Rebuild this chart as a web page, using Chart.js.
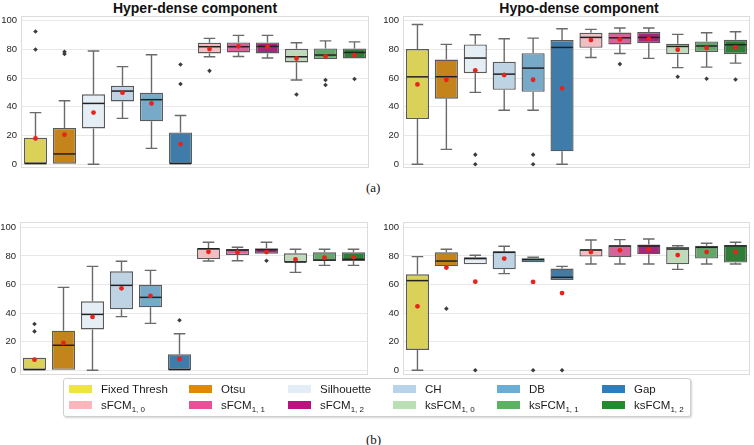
<!DOCTYPE html>
<html>
<head>
<meta charset="utf-8">
<script src="https://cdn.jsdelivr.net/npm/chart.js@4"></script>
<style>
  body { margin: 0; background: #fff; width: 754px; height: 445px; position: relative; overflow: hidden;
         font-family: "Liberation Sans", Arial, sans-serif; }
  .panel { position: absolute; }
  .panel canvas { display: block; }
  .title { position: absolute; width: 300px; text-align: center; font-weight: bold; font-size: 14px;
           line-height: 16px; color: #111; }
  .cap { position: absolute; font-family: "Liberation Serif", "DejaVu Serif", serif; font-size: 13px; color: #111; }
  #legend { position: absolute; left: 63px; top: 378px; width: 626px; height: 37px; background: #fff;
            border: 1px solid #cfcfcf; border-radius: 3px; box-shadow: 1px 1px 2px rgba(0,0,0,0.18); }
  .item { position: absolute; font-size: 11.5px; line-height: 14px; color: #1a1a1a; white-space: nowrap; }
  .sw { position: absolute; width: 23px; height: 8px; }
  .item sub { font-size: 8px; vertical-align: -3px; line-height: 0; }
</style>
</head>
<body>
<div class="title" style="left:45px; top:0px;">Hyper-dense component</div>
<div class="title" style="left:429px; top:0px;">Hypo-dense component</div>
<div class="panel" style="left:0px; top:10px;"><canvas id="aHyper" width="375" height="165"></canvas></div>
<div class="panel" style="left:375px; top:10px;"><canvas id="aHypo" width="379" height="165"></canvas></div>
<div class="panel" style="left:0px; top:216px;"><canvas id="bHyper" width="375" height="165"></canvas></div>
<div class="panel" style="left:375px; top:216px;"><canvas id="bHypo" width="379" height="165"></canvas></div>
<div class="cap" style="left:366px; top:180px;">(a)</div>
<div class="cap" style="left:366px; top:432px;">(b)</div>
<div id="legend"></div>
<script>
// methods, in plotting order
const methods = ['Fixed Thresh', 'Otsu', 'Silhouette', 'CH', 'DB', 'Gap',
                 'sFCM', 'sFCM', 'sFCM', 'ksFCM', 'ksFCM', 'ksFCM'];
const subscripts = ['', '', '', '', '', '', '1, 0', '1, 1', '1, 2', '1, 0', '1, 1', '1, 2'];
const categories = methods.map((m, i) => subscripts[i] ? m + subscripts[i] : m);
const palette = ['#f0e442', '#e08a00', '#e3edf8', '#b7d4ea', '#6aaed6', '#2e7ebc',
                 '#fab6ba', '#e8519a', '#b8137f', '#badfb5', '#5ab262', '#238a2e'];
const yTicks = [0, 20, 40, 60, 80, 100];

// box stats: [whisker low, q1, median, q3, whisker high]
const aHyperStats = [[0, 0, 0, 18.5, 36], [0, 0, 7.2, 25.3, 44.3], [0, 25, 42.4, 48.7, 78.9],
  [32, 43.8, 51, 54.7, 68], [11.1, 29.9, 45, 49.9, 76.3], [0, 0, 0, 22.2, 34],
  [74.9, 77.2, 81.9, 84.7, 87.7], [75.1, 77.9, 81.9, 84.9, 89.8], [74, 77.2, 82.1, 84.9, 89.8],
  [58.7, 70.9, 74.9, 80.5, 84.7], [73.3, 73.3, 76.1, 80.7, 86], [73.7, 73.7, 77.9, 80.7, 85.3]];
const aHyperMeans = [18, 20.6, 36, 49.9, 42.4, 14.1, 80.3, 82.2, 81.9, 73.7, 75.2, 76.1];
const aHyperOutliers = [[92.5, 80], [78.4, 76.8], [], [], [], [69.5, 55.9], [65.1], [], [], [48.6], [58.7, 55.2], [59.4]];

const aHypoStats = [[0, 31.5, 60.9, 80.3, 97.4], [10.4, 45.7, 61, 73, 83.5], [50.1, 63.5, 74, 83.5, 90.2],
  [37.6, 51.9, 62.8, 71.4, 87.4], [37.6, 50.5, 67, 77.4, 87.9], [0, 9, 81.4, 86.5, 94.4],
  [74.4, 81.1, 88.4, 91.6, 94], [77.2, 83.5, 88.1, 91.8, 94.9], [73.8, 84.4, 88.4, 92.1, 94.9],
  [67.3, 76.7, 82.1, 84, 90.5], [67.7, 78.2, 82.4, 85.6, 91.6], [70.5, 76.7, 83.3, 86.7, 92.3]];
const aHypoMeans = [55.6, 58.9, 65.4, 62.2, 58.9, 52.9, 86.5, 87, 87.4, 79.8, 81, 81.4];
const aHypoOutliers = [[], [], [6.7, 0], [], [6.7, 0], [], [], [69.8], [], [61], [59.6], [59.1]];

const bHyperStats = [[0, 0, 0, 8.8, 8.8], [0, 0, 17.5, 27.7, 58], [0, 28.6, 39.1, 48.2, 72.7],
  [37.5, 42.6, 59.4, 69.2, 76.2], [32.8, 44, 51, 59.9, 69.9], [0, 0, 0, 11.2, 25.6],
  [76.4, 77.8, 85, 85.3, 89.5], [76.6, 80.6, 84, 84.8, 86], [81.5, 81.5, 84.3, 85.3, 89.5],
  [68.5, 75.5, 75.7, 81.8, 84.6], [73.4, 76.4, 77.1, 82.5, 84.6], [73.4, 76.4, 77.6, 82.5, 84.6]];
const bHyperMeans = [7.4, 19.1, 37.3, 57.3, 52, 7.9, 82.9, 82.5, 82.7, 77.6, 78.8, 79.2];
const bHyperOutliers = [[32.4, 27.2], [], [], [], [], [35], [], [], [76.6], [], [], []];

const bHypoStats = [[0, 14.2, 62.7, 67.1, 79.5], [72.7, 72.7, 76.4, 82.5, 84.6], [74.1, 74.1, 78.1, 79, 80.4],
  [67.6, 70.6, 82.5, 83.2, 86.7], [75.5, 75.5, 77.4, 78.3, 79], [63.2, 63.2, 65, 71.1, 72.7],
  [74.3, 79.5, 84.1, 84.6, 91.1], [74.3, 79, 86.9, 87.4, 91.4], [74.3, 81.1, 86.9, 87.9, 91.8],
  [70.6, 74.1, 84.8, 86.2, 87.1], [74.3, 78.1, 86, 87.1, 88.8], [74.3, 75.3, 86.9, 87.6, 89.5]];
const bHypoMeans = [44.7, 71.8, 62, 78.1, 61.8, 54, 82.7, 83.9, 84.6, 80.6, 82.7, 82.7];
const bHypoOutliers = [[], [43.1], [0], [], [0], [0], [], [], [], [], [], []];

const lineGray = '#5a5a5a';

// seaborn-style desaturation for the box faces
function desaturate(hex, prop) {
  const r = parseInt(hex.slice(1, 3), 16) / 255, g = parseInt(hex.slice(3, 5), 16) / 255, b = parseInt(hex.slice(5, 7), 16) / 255;
  const mx = Math.max(r, g, b), mn = Math.min(r, g, b), l = (mx + mn) / 2;
  let h = 0, s = 0;
  if (mx !== mn) {
    const d = mx - mn;
    s = l > 0.5 ? d / (2 - mx - mn) : d / (mx + mn);
    if (mx === r) h = (g - b) / d + (g < b ? 6 : 0);
    else if (mx === g) h = (b - r) / d + 2;
    else h = (r - g) / d + 4;
    h /= 6;
  }
  return 'hsl(' + (h * 360).toFixed(1) + ',' + (s * prop * 100).toFixed(1) + '%,' + (l * 100).toFixed(1) + '%)';
}
const boxColors = palette.map(c => desaturate(c, 0.75));

const boxParts = {
  id: 'boxParts',
  beforeDatasetsDraw(chart) {
    const stats = chart.data.datasets[0].stats;
    const x = chart.scales.x, y = chart.scales.y, ctx = chart.ctx;
    const meta = chart.getDatasetMeta(0);
    ctx.save();
    ctx.strokeStyle = '#6a6a6a';
    ctx.lineWidth = 1.4;
    stats.forEach((s, i) => {
      const cx = x.getPixelForValue(i), half = meta.data[i].width / 4;
      [[s[0], s[1]], [s[4], s[3]]].forEach(([end, edge]) => {
        if (end === edge) return;
        ctx.beginPath();
        ctx.moveTo(cx, y.getPixelForValue(edge));
        ctx.lineTo(cx, y.getPixelForValue(end));
        ctx.moveTo(cx - half, y.getPixelForValue(end));
        ctx.lineTo(cx + half, y.getPixelForValue(end));
        ctx.stroke();
      });
    });
    ctx.restore();
  },
  afterDatasetDraw(chart, args) {
    if (args.index !== 0) return;
    const stats = chart.data.datasets[0].stats;
    const x = chart.scales.x, y = chart.scales.y, ctx = chart.ctx;
    const meta = chart.getDatasetMeta(0);
    ctx.save();
    ctx.strokeStyle = '#222';
    ctx.lineWidth = 1.5;
    stats.forEach((s, i) => {
      const cx = x.getPixelForValue(i), half = meta.data[i].width / 2 - 0.7;
      const py = Math.min(y.getPixelForValue(s[2]), y.getPixelForValue(0) - 0.7);
      ctx.beginPath();
      ctx.moveTo(cx - half, py);
      ctx.lineTo(cx + half, py);
      ctx.stroke();
    });
    ctx.restore();
  },
  afterDraw(chart) {
    const a = chart.chartArea, ctx = chart.ctx;
    ctx.save();
    ctx.strokeStyle = '#dcdcdc';
    ctx.lineWidth = 1;
    ctx.strokeRect(Math.round(a.left) + 0.5, Math.round(a.top) + 0.5,
                   Math.round(a.right - a.left) - 1, Math.round(a.bottom - a.top) - 1);
    ctx.restore();
  }
};

function makePanel(id, stats, means, outliers, yMin, yMax, axisWidth, pad) {
  const outlierPts = [];
  outliers.forEach((list, i) => list.forEach(v => outlierPts.push({ x: categories[i], y: v })));
  return new Chart(document.getElementById(id), {
    type: 'bar',
    data: {
      labels: categories,
      datasets: [
        {
          data: stats.map(s => [s[1], s[3]]),
          stats: stats,
          backgroundColor: boxColors,
          borderColor: lineGray,
          borderWidth: 1.4,
          borderSkipped: false,
          categoryPercentage: 1,
          barPercentage: 0.8,
          order: 3
        },
        {
          type: 'line',
          data: outlierPts,
          showLine: false,
          pointStyle: 'rectRot',
          pointRadius: 2.3,
          pointBackgroundColor: '#3c3c3c',
          pointBorderWidth: 0,
          order: 2
        },
        {
          type: 'line',
          data: means.map((m, i) => ({ x: categories[i], y: m })),
          showLine: false,
          pointRadius: 2.4,
          pointBackgroundColor: '#e8231c',
          pointBorderWidth: 0,
          order: 1
        }
      ]
    },
    options: {
      responsive: false,
      animation: false,
      devicePixelRatio: 1,
      layout: { padding: pad },
      plugins: { legend: { display: false }, tooltip: { enabled: false } },
      scales: {
        x: { type: 'category', display: false, offset: true },
        y: {
          min: yMin,
          max: yMax,
          afterFit: s => { s.width = axisWidth; s.paddingTop = 0; s.paddingBottom = 0; },
          afterBuildTicks: s => { s.ticks = yTicks.map(v => ({ value: v })); },
          ticks: { padding: 4, color: '#262626', font: { family: 'Liberation Sans', size: 9.5 } },
          grid: { color: '#e8e8e8', drawTicks: false },
          border: { display: false }
        }
      }
    },
    plugins: [boxParts]
  });
}

makePanel('aHyper', aHyperStats, aHyperMeans, aHyperOutliers, -2.6, 103.3, 21, { top: 6, bottom: 7, left: 0, right: 6 });
makePanel('aHypo', aHypoStats, aHypoMeans, aHypoOutliers, -2.6, 103.3, 28, { top: 6, bottom: 7, left: 0, right: 2 });
makePanel('bHyper', bHyperStats, bHyperMeans, bHyperOutliers, -3.3, 103.7, 20, { top: 6, bottom: 6, left: 0, right: 7 });
makePanel('bHypo', bHypoStats, bHypoMeans, bHypoOutliers, -3.3, 103.7, 28, { top: 6, bottom: 6, left: 0, right: 2 });

// legend: 6 columns x 2 rows
const legend = document.getElementById('legend');
const colX = [5, 125, 224, 329, 433, 538];
methods.forEach((m, i) => {
  const col = i % 6, row = Math.floor(i / 6);
  const sw = document.createElement('div');
  sw.className = 'sw';
  sw.style.left = colX[col] + 'px';
  sw.style.top = (6 + row * 16) + 'px';
  sw.style.background = palette[i];
  legend.appendChild(sw);
  const it = document.createElement('div');
  it.className = 'item';
  it.style.left = (colX[col] + 32) + 'px';
  it.style.top = (3 + row * 16) + 'px';
  it.innerHTML = m + (subscripts[i] ? '<sub>' + subscripts[i] + '</sub>' : '');
  legend.appendChild(it);
});
</script>
</body>
</html>
